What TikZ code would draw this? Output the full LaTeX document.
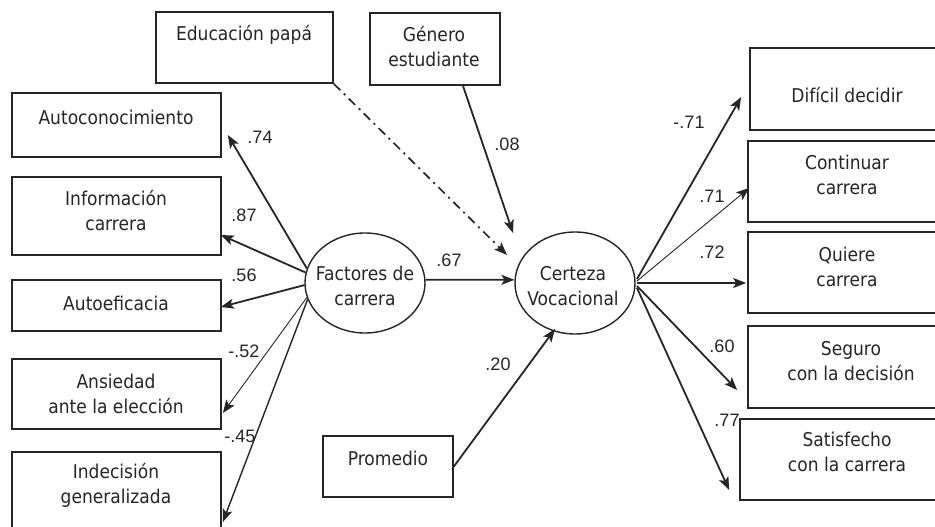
\documentclass[tikz,border=0pt]{standalone}
\usepackage{fontspec}
\setmainfont{Liberation Sans}
\newfontfamily\boxfont[FakeStretch=0.9]{DejaVu Sans}
\usetikzlibrary{arrows.meta,calc,shapes.geometric}
\definecolor{ink}{HTML}{262626}
\tikzset{
  box/.style={draw=ink, line width=1.7pt, rectangle, inner sep=0pt},
  latent/.style={draw=ink, line width=1.4pt, ellipse, inner sep=0pt, minimum width=120pt, minimum height=100pt},
  txt/.style={align=center, text=ink, inner sep=0pt, font=\boxfont\fontsize{19}{25}\selectfont},
  num/.style={text=ink, inner sep=0pt, font=\fontsize{18}{20}\selectfont},
  arr/.style={draw=ink, line width=1.8pt, -{Stealth[length=13pt,width=10pt,inset=3pt]}},
  thinarr/.style={arr, line width=0.9pt},
  dashdot/.style={arr, line width=1.7pt, dash pattern=on 9pt off 5pt on 2pt off 5pt}
}
\begin{document}
\begin{tikzpicture}[x=1pt,y=-1pt]
\useasboundingbox (0,0) rectangle (935,527);
\clip (0,0) rectangle (935,527);
\fill[white] (0,0) rectangle (935,527);
% top boxes
\node[box, minimum width=177pt, minimum height=71pt] (edu) at (244.5,47.5) {};
\node[txt] (edut) at (244,35) {Educación papá};
\node[box, minimum width=130pt, minimum height=72pt] (gen) at (435,49) {};
\node[txt] (gent) at (434,47) {Género\\estudiante};
% left boxes
\node[box, minimum width=209pt, minimum height=64pt] (auto) at (116.5,125) {};
\node[txt] (autot) at (116,117) {Autoconocimiento};
\node[box, minimum width=209pt, minimum height=78pt] (info) at (116.5,216) {};
\node[txt] (infot) at (116,211) {Información\\carrera};
\node[box, minimum width=209pt, minimum height=51pt] (autoef) at (116.5,305.5) {};
\node[txt] (autoeft) at (116,303) {Autoeficacia};
\node[box, minimum width=209pt, minimum height=70pt] (ans) at (116.5,394) {};
\node[txt] (anst) at (116,394) {Ansiedad\\ante la elección};
\node[box, minimum width=209pt, minimum height=90pt] (ind) at (116.5,497) {};
\node[txt] (indt) at (116,485) {Indecisión\\generalizada};
% latent variables
\node[latent] (fac) at (365,283) {};
\node[txt] (fact) at (365,286) {Factores de\\carrera};
\node[latent, minimum width=120pt, minimum height=102pt] (cer) at (575,283) {};
\node[txt] (cert) at (573,286) {Certeza\\Vocacional};
% promedio
\node[box, minimum width=130pt, minimum height=61pt] (prom) at (388,466.5) {};
\node[txt] (promt) at (388,458) {Promedio};
% right boxes
\node[box, minimum width=194pt, minimum height=82pt] (dif) at (847,89) {};
\node[txt] (dift) at (847,95) {Difícil decidir};
\node[box, minimum width=196pt, minimum height=81pt] (cont) at (846,181.5) {};
\node[txt] (contt) at (847,175) {Continuar\\carrera};
\node[box, minimum width=196pt, minimum height=81pt] (qui) at (846,272.5) {};
\node[txt] (quit) at (847,267) {Quiere\\carrera};
\node[box, minimum width=196pt, minimum height=82pt] (seg) at (846,367) {};
\node[txt] (segt) at (851,361) {Seguro\\con la decisión};
\node[box, minimum width=204pt, minimum height=81pt] (sat) at (842,459.5) {};
\node[txt] (satt) at (847,452) {Satisfecho\\con la carrera};
% arrow end coordinates
\coordinate (tAuto) at ($(auto.east)+(6,10)$);
\coordinate (tInfo) at ($(info.east)+(-1,19)$);
\coordinate (tEf) at ($(autoef.east)+(-1,1.5)$);
\coordinate (tAns) at ($(ans.east)+(1,19)$);
\coordinate (tInd) at ($(ind.east)+(1,25)$);
\coordinate (tGen) at ($(cer.center)+(-62,-50)$);
\coordinate (tEdu) at ($(cer.center)+(-68,-28)$);
\coordinate (sGen) at ($(gen.south)+(28,0)$);
\coordinate (tProm) at ($(cer.center)+(-20,46)$);
\coordinate (tDif) at ($(dif.west)+(-8,8)$);
\coordinate (tCont) at ($(cont.west)+(2,6.5)$);
\coordinate (tQui) at ($(qui.west)+(-1,10.5)$);
\coordinate (tSeg) at ($(seg.west)+(-10,23)$);
\coordinate (tSat) at ($(sat.west)+(-10,30.5)$);
\coordinate (sR) at ($(cer.center)+(62,0)$);
% left arrows
\draw[arr] (fac.166) -- (tAuto);
\draw[arr] (fac.170) -- (tInfo);
\draw[arr] (fac.182) -- (tEf);
\draw[thinarr] (fac.194) -- (tAns);
\draw[arr, line width=1.4pt] (fac.196) -- (tInd);
% center arrows
\draw[arr] (fac.3) -- (cer.177);
\draw[arr] (sGen) -- (tGen);
\draw[dashdot] (edu.south east) -- (tEdu);
\draw[arr] (prom.east) -- (tProm);
% right arrows
\draw[arr] ($(sR)+(0,-4)$) -- (tDif);
\draw[thinarr] ($(sR)+(0,-2)$) -- (tCont);
\draw[arr] (sR) -- (tQui);
\draw[arr] ($(sR)+(0,3)$) -- (tSeg);
\draw[arr] ($(sR)+(0,5)$) -- (tSat);
% labels
\node[num] (l74) at (260,137) {.74};
\node[num] (l87) at (244,215) {.87};
\node[num] (l56) at (244,275) {.56};
\node[num] (l52) at (244,351) {-.52};
\node[num] (l45) at (240,436) {-.45};
\node[num] (l67) at (449,260) {.67};
\node[num] (l08) at (507,144) {.08};
\node[num] (l20) at (498,364) {.20};
\node[num] (l71a) at (689,122) {-.71};
\node[num] (l71b) at (712,196) {.71};
\node[num] (l72) at (712,252) {.72};
\node[num] (l60) at (722,346) {.60};
\node[num] (l77) at (727,420) {.77};
\end{tikzpicture}
\end{document}
